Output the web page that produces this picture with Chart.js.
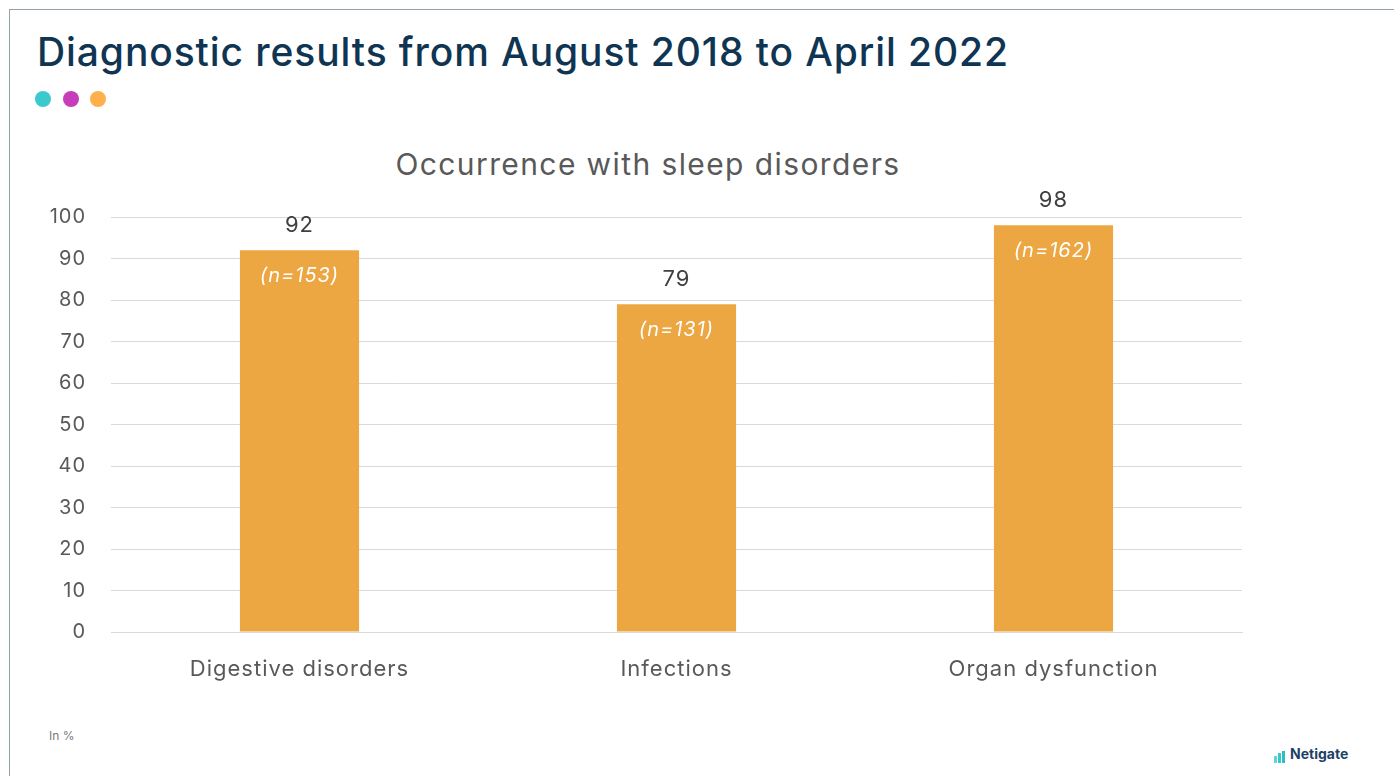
<!DOCTYPE html>
<html>
<head>
<meta charset="utf-8">
<script src="https://cdn.jsdelivr.net/npm/chart.js@4"></script>
<style>
  html, body { margin:0; padding:0; background:#fff; }
  body { width:1394px; height:776px; position:relative; overflow:hidden; font-family: "Inter", "Noto Sans", sans-serif; }
  .frame { position:absolute; left:9px; top:9px; right:-5px; bottom:-5px; border:1.5px solid #94a0aa; }
  h1 { position:absolute; left:37px; top:28px; margin:0; font-size:39px; font-weight:500; color:#0f3553; letter-spacing:0.9px; white-space:nowrap; }
  .dot { position:absolute; top:91px; width:16px; height:16px; border-radius:50%; }
  .sub { position:absolute; left:0; width:1296px; top:146px; text-align:center; font-size:30px; color:#595959; letter-spacing:1.4px; white-space:nowrap; }
  .unit { position:absolute; left:49px; top:728px; font-size:12px; color:#7a7a7a; }
  .logo { position:absolute; left:1274px; top:745px; height:18px; display:flex; align-items:flex-end; }
  .logo .b { width:3px; margin-right:1px; background:#38c9c6; }
  .logo span { font-size:14px; font-weight:700; color:#1e3f66; margin-left:4px; line-height:18px; }
  canvas { position:absolute; left:30px; top:140px; }
</style>
</head>
<body>
<div class="frame"></div>
<h1>Diagnostic results from August 2018 to April 2022</h1>
<div class="dot" style="left:35px;background:#3cc9cd"></div>
<div class="dot" style="left:63px;background:#c53db9"></div>
<div class="dot" style="left:90px;background:#fdb04c"></div>
<div class="sub">Occurrence with sleep disorders</div>
<div class="unit">In %</div>
<div class="logo"><div class="b" style="height:7px;background:#5fd6cf"></div><div class="b" style="height:10px"></div><div class="b" style="height:12px;background:#2bbfc0"></div><span>Netigate</span></div>
<canvas id="c" width="1250" height="572"></canvas>
<script>
const categories = ["Digestive disorders", "Infections", "Organ dysfunction"];
const values = [92, 79, 98];
const sampleSizes = [153, 131, 162];
const yTicks = [0, 10, 20, 30, 40, 50, 60, 70, 80, 90, 100];

const spacingPlugin = {
  id: 'spacing',
  beforeUpdate(chart) { chart.ctx.letterSpacing = '1px'; },
  beforeLayout(chart) { chart.ctx.letterSpacing = '1px'; },
  beforeDraw(chart) { chart.ctx.letterSpacing = '1px'; }
};

const labelPlugin = {
  id: 'barLabels',
  afterDatasetsDraw(chart) {
    const ctx = chart.ctx;
    const meta = chart.getDatasetMeta(0);
    ctx.save();
    ctx.textAlign = 'center';
    ctx.textBaseline = 'middle';
    meta.data.forEach((bar, i) => {
      ctx.fillStyle = '#404040';
      ctx.font = '22px Inter, "Noto Sans", sans-serif';
      ctx.fillText(String(values[i]), bar.x, bar.y - 25);
      ctx.fillStyle = '#ffffff';
      ctx.font = 'italic 20px Inter, "Noto Sans", sans-serif';
      ctx.fillText('(n=' + sampleSizes[i] + ')', bar.x, bar.y + 26);
    });
    ctx.restore();
  }
};

new Chart(document.getElementById('c'), {
  type: 'bar',
  data: {
    labels: categories,
    datasets: [{
      data: values,
      backgroundColor: '#eca742',
      barPercentage: 0.316,
      categoryPercentage: 1.0
    }]
  },
  options: {
    responsive: false,
    animation: false,
    layout: { padding: { top: 77, right: 38, bottom: 0, left: 0 } },
    plugins: { legend: { display: false }, tooltip: { enabled: false } },
    scales: {
      x: {
        grid: { display: false, drawTicks: false },
        border: { color: '#d9d9d9', width: 1 },
        ticks: { color: '#595959', font: { size: 22, family: 'Inter, "Noto Sans", sans-serif' }, padding: 24 },
        afterFit(s) { s.height = 80; }
      },
      y: {
        min: 0, max: 100,
        afterBuildTicks(s) { s.ticks = yTicks.map(v => ({ value: v })); },
        grid: { color: '#d9d9d9', drawTicks: false },
        border: { display: false },
        ticks: { color: '#595959', font: { size: 20, family: 'Inter, "Noto Sans", sans-serif' }, padding: 25 },
        afterFit(s) { s.width = 81; }
      }
    }
  },
  plugins: [spacingPlugin, labelPlugin]
});
</script>
</body>
</html>
